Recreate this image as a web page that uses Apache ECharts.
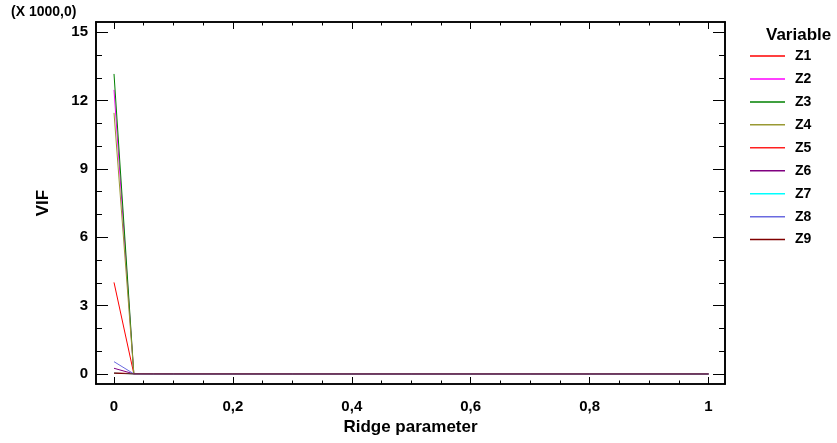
<!DOCTYPE html>
<html>
<head>
<meta charset="utf-8">
<script src="https://cdn.jsdelivr.net/npm/echarts@6/dist/echarts.min.js"></script>
<style>
html,body{margin:0;padding:0;background:#fff;}
#chart{width:837px;height:443px;}
</style>
</head>
<body>
<div id="chart"></div>
<script>
// Ridge parameter values (x)
var ridge = [0, 0.0333, 0.0667, 0.1, 0.2, 0.3, 0.4, 0.5, 0.6, 0.7, 0.8, 0.9, 1.0];
// VIF values (in thousands)
var Z1 = [4.02, 0.012, 0.008, 0.006, 0.004, 0.003, 0.003, 0.002, 0.002, 0.002, 0.002, 0.001, 0.001];
var Z2 = [12.47, 0.021, 0.012, 0.008, 0.005, 0.004, 0.003, 0.003, 0.002, 0.002, 0.002, 0.002, 0.001];
var Z3 = [13.17, 0.022, 0.013, 0.009, 0.005, 0.004, 0.003, 0.003, 0.002, 0.002, 0.002, 0.002, 0.001];
var Z4 = [11.46, 0.020, 0.012, 0.008, 0.005, 0.004, 0.003, 0.003, 0.002, 0.002, 0.002, 0.002, 0.001];
var Z5 = [0.06, 0.006, 0.004, 0.003, 0.002, 0.002, 0.001, 0.001, 0.001, 0.001, 0.001, 0.001, 0.001];
var Z6 = [0.25, 0.005, 0.004, 0.003, 0.002, 0.002, 0.001, 0.001, 0.001, 0.001, 0.001, 0.001, 0.001];
var Z7 = [0.04, 0.004, 0.003, 0.002, 0.002, 0.001, 0.001, 0.001, 0.001, 0.001, 0.001, 0.001, 0.001];
var Z8 = [0.54, 0.006, 0.004, 0.003, 0.002, 0.002, 0.001, 0.001, 0.001, 0.001, 0.001, 0.001, 0.001];
var Z9 = [0.03, 0.004, 0.003, 0.002, 0.002, 0.001, 0.001, 0.001, 0.001, 0.001, 0.001, 0.001, 0.001];
var seriesNames = ['Z1','Z2','Z3','Z4','Z5','Z6','Z7','Z8','Z9'];
var seriesValues = [Z1, Z2, Z3, Z4, Z5, Z6, Z7, Z8, Z9];
var seriesColors = ['#ff0000','#ff00ff','#008000','#999933','#ff2020','#800080','#00ffff','#6a6ae0','#800000'];
// Tick values
var xMajor = [0, 0.2, 0.4, 0.6, 0.8, 1];
var xMinor = [0.05, 0.1, 0.15, 0.25, 0.3, 0.35, 0.45, 0.5, 0.55, 0.65, 0.7, 0.75, 0.85, 0.9, 0.95];
var yMajor = [0, 3, 6, 9, 12, 15];
var yMinor = [1, 2, 4, 5, 7, 8, 10, 11, 13, 14];

var FONT = '"Liberation Sans", Arial, sans-serif';
var XMIN = -0.0303, XMAX = 1.0278, YMIN = -0.44, YMAX = 15.45;

function xAx(pos, customTicks, len, labels) {
  return {
    type: 'value', position: pos, min: XMIN, max: XMAX,
    axisLine: { show: true, onZero: false, lineStyle: { color: '#000', width: 1.6 } },
    axisTick: { show: true, inside: true, length: len, customValues: customTicks, lineStyle: { color: '#000', width: 1 } },
    axisLabel: labels ? {
      show: true, customValues: xMajor, color: '#000', fontFamily: FONT, fontWeight: 'bold', fontSize: 15, margin: 15,
      formatter: function (v) { return String(Math.round(v * 10) / 10).replace('.', ','); }
    } : { show: false },
    splitLine: { show: false },
    name: labels ? 'Ridge parameter' : '',
    nameLocation: 'middle', nameGap: 35,
    nameTextStyle: { color: '#000', fontFamily: FONT, fontWeight: 'bold', fontSize: 17 }
  };
}
function yAx(pos, customTicks, len, labels) {
  return {
    type: 'value', position: pos, min: YMIN, max: YMAX,
    axisLine: { show: true, onZero: false, lineStyle: { color: '#000', width: 1.6 } },
    axisTick: { show: true, inside: true, length: len, customValues: customTicks, lineStyle: { color: '#000', width: 1 } },
    axisLabel: labels ? {
      show: true, customValues: yMajor, color: '#000', fontFamily: FONT, fontWeight: 'bold', fontSize: 15, margin: 8
    } : { show: false },
    splitLine: { show: false },
    name: labels ? 'VIF' : '',
    nameLocation: 'middle', nameGap: 44,
    nameTextStyle: { color: '#000', fontFamily: FONT, fontWeight: 'bold', fontSize: 17 }
  };
}

var series = seriesNames.map(function (n, i) {
  return {
    name: n, type: 'line', xAxisIndex: 0, yAxisIndex: 0,
    symbol: 'none', silent: true, animation: false,
    lineStyle: { color: seriesColors[i], width: 1 },
    itemStyle: { color: seriesColors[i] },
    data: ridge.map(function (x, k) { return [x, seriesValues[i][k]]; })
  };
});

var chart = echarts.init(document.getElementById('chart'), null, { renderer: 'canvas' });
chart.setOption({
  animation: false,
  backgroundColor: '#fff',
  grid: { left: 96, top: 22, right: 112, bottom: 59 },
  xAxis: [
    xAx('bottom', xMajor, 7, true),
    xAx('bottom', xMinor, 3.5, false),
    xAx('top', xMajor, 7, false),
    xAx('top', xMinor, 3.5, false)
  ],
  yAxis: [
    yAx('left', yMajor, 12, true),
    yAx('left', yMinor, 6, false),
    yAx('right', yMajor, 12, false),
    yAx('right', yMinor, 6, false)
  ],
  legend: {
    orient: 'vertical', left: 750, top: 49, padding: 0,
    icon: 'rect', itemWidth: 35, itemHeight: 1.5, itemGap: 8.95,
    selectedMode: false,
    textStyle: { color: '#000', fontFamily: FONT, fontWeight: 'bold', fontSize: 14, padding: [0, 0, 0, 5] },
    data: seriesNames
  },
  graphic: [
    { type: 'text', left: 11, top: 5, style: { text: '(X 1000,0)', fill: '#000', font: 'bold 14px ' + FONT } },
    { type: 'text', left: 766, top: 27, style: { text: 'Variable', fill: '#000', font: 'bold 17px ' + FONT } }
  ],
  series: series
});
</script>
</body>
</html>
